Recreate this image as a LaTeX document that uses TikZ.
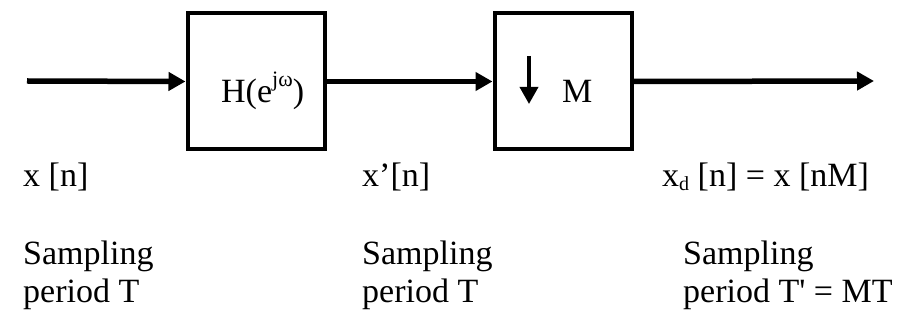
\documentclass[tikz,border=0pt]{standalone}
\usepackage{fontspec}
\setmainfont{Liberation Serif}
\usetikzlibrary{arrows.meta}
\begin{document}
\begin{tikzpicture}[x=1pt,y=-1pt,
  blk/.style={draw,line width=4pt,minimum width=137pt,minimum height=136pt,inner sep=0pt},
  sig/.style={line width=5.5pt,-{Triangle[length=17pt,width=18pt]}},
  lbl/.style={anchor=base west,inner sep=0pt,font=\fontsize{34}{38}\selectfont,align=left}]
\useasboundingbox (0,0) rectangle (919,320);
\node[blk] (h) at (256,81.5) {};
\node[blk] (m) at (563,81.5) {};
\coordinate (in) at (27,81);
\coordinate (out) at (874,81);
\draw[sig] (in) -- (h.west);
\draw[sig] (h.east) -- (m.west);
\draw[sig] (m.east) -- (out);
\node[lbl] (ht) at (221,103) {H(e\raisebox{16pt}{\fontsize{22}{22}\selectfont jω})};
\coordinate (dt) at (529,56);
\coordinate (db) at (529,104);
\draw[line width=3.5pt,-{Triangle[length=17pt,width=18pt]}] (dt) -- (db);
\node[lbl] (mt) at (562,103) {M};
\node[lbl] (l1) at (23,187) {x [n]};
\node[lbl] (l2) at (362,187) {x’[n]};
\node[lbl] (l3) at (662,187) {x\raisebox{-4pt}{\fontsize{20}{20}\selectfont d} [n] = x [nM]};
\node[lbl] (s1) at (23,303) {Sampling\\period T};
\node[lbl] (s2) at (362,303) {Sampling\\period T};
\node[lbl] (s3) at (683,303) {Sampling\\period T\textquotesingle{} = MT};
\end{tikzpicture}
\end{document}
